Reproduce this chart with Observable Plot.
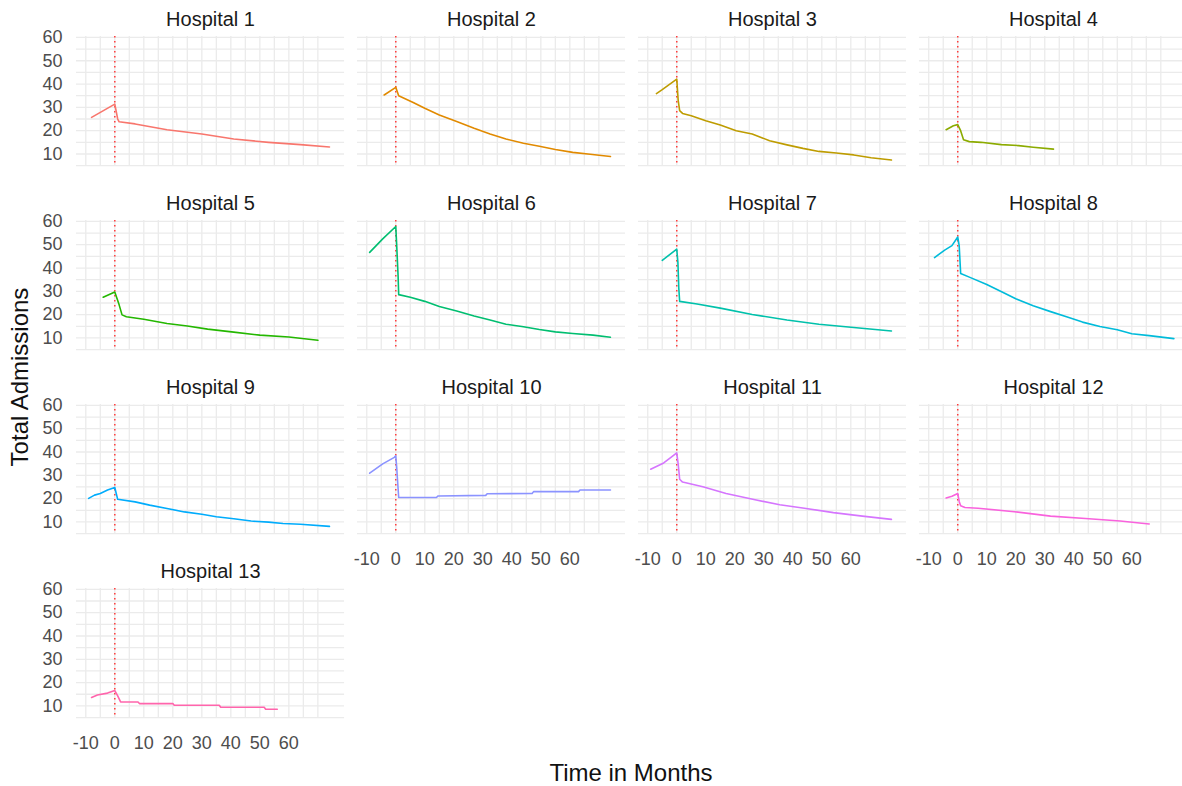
<!DOCTYPE html>
<html><head><meta charset="utf-8">
<script src="https://cdn.jsdelivr.net/npm/d3@7"></script>
<script src="https://cdn.jsdelivr.net/npm/@observablehq/plot@0.6"></script>
<style>
html,body{margin:0;padding:0;background:#fff;overflow:hidden;}
#wrap{position:relative;width:1182px;height:786px;font-family:"Liberation Sans",Arial,sans-serif;}
#xtitle{position:absolute;left:0;width:1262px;top:759px;text-align:center;font-size:24px;color:#111;}
#ytitle{position:absolute;left:20px;top:377px;transform:translate(-50%,-50%) rotate(-90deg);font-size:24px;color:#111;white-space:nowrap;}
</style></head>
<body><div id="wrap"><div id="chart"></div><div id="xtitle">Time in Months</div><div id="ytitle">Total Admissions</div></div>
<script>
// ---- data: [month, total admissions] ----
const hospital1 = [[-8,25.7],[0,31.4],[1,25],[1.5,23.8],[7,22.9],[18,20.4],[30,18.6],[41,16.4],[53,15],[64,14],[74,13]];
const hospital2 = [[-4,35.3],[0,38.6],[1,35],[6,32.1],[10,29.6],[15,26.7],[21,23.9],[27,21],[32.5,18.6],[38,16.4],[44,14.6],[49.5,13.3],[55,11.9],[61,10.7],[67,9.9],[74,8.9]];
const hospital3 = [[-7,35.9],[-5,37.6],[0,42.1],[0.5,32.9],[1,28.6],[2,27.4],[5,26.4],[10,24.3],[15,22.4],[20.5,20],[26,18.6],[32,15.7],[38,13.9],[43.5,12.4],[49,11.1],[55,10.4],[61,9.6],[67,8.4],[74,7.4]];
const hospital4 = [[-4,20.4],[-1.5,22.1],[0,22.6],[1,20],[2,16.1],[4,15.3],[8,15],[15,14],[21,13.6],[26,12.9],[33,12.1]];
const hospital5 = [[-4,27.5],[0,29.7],[1.5,24.2],[2.5,19.9],[4,19.1],[10,18],[18,16.2],[25,15.1],[32,13.8],[41,12.5],[50,11.2],[60,10.4],[70,9]];
const hospital6 = [[-9,46.7],[-4.5,52.5],[0,57.8],[0.3,50.3],[0.8,36.5],[1,28.6],[5,27.5],[10,25.7],[15,23.5],[21,21.6],[27,19.4],[32.5,17.7],[38,15.9],[44,14.8],[49.5,13.6],[55,12.6],[61,11.9],[68,11.2],[74,10.3]];
const hospital7 = [[-5,43.3],[0,48.1],[0.4,42.3],[0.7,31.4],[1,25.7],[7,24.6],[15,22.8],[26,20.1],[38,17.7],[49,15.9],[61,14.5],[74,13]];
const hospital8 = [[-8,44.5],[-4.5,47.7],[-2,49.6],[0,53.3],[0.5,49.6],[1,37.7],[4,36.1],[10,32.9],[16,29.3],[20,26.8],[26,23.8],[32,21.3],[37.5,19.1],[43,16.8],[49,14.9],[55,13.5],[60,11.8],[66,11],[74.5,9.7]];
const hospital9 = [[-9,20.1],[-7,21.5],[-5,22.2],[-2.5,23.7],[0,24.8],[0.5,22.2],[1,19.7],[7,18.6],[12,17.2],[18,15.8],[24,14.3],[30,13.3],[35,12.2],[41,11.4],[47,10.4],[53,9.9],[58,9.3],[64,9],[74,8.1]];
const hospital10 = [[-9,30.9],[-4.5,34.9],[-0.5,37.7],[0,38.4],[0.3,33.8],[0.6,28],[1,20.5],[14,20.5],[14.5,21.1],[31,21.4],[31.5,22.1],[47,22.2],[47.5,23],[63,23],[63.5,23.7],[74,23.7]];
const hospital11 = [[-9,32.6],[-4.5,35.3],[-2,37.7],[0,39.6],[0.5,34.8],[1,28.3],[2,27.1],[9,25.1],[17,22.2],[27,19.5],[35.5,17.4],[44,15.9],[54,14],[64,12.5],[74,11.1]];
const hospital12 = [[-4,20.3],[-2,21],[0,22.2],[0.5,18.8],[1,16.9],[2.5,16.2],[7,15.9],[19.5,14.4],[32,12.5],[44,11.5],[56,10.4],[66,9.1]];
const hospital13 = [[-8,13.6],[-6,14.7],[-2.5,15.5],[0,16.6],[1,14.3],[2,11.7],[8,11.7],[8.5,11],[20,11],[20.5,10.3],[36,10.3],[36.5,9.4],[51.5,9.4],[52,8.6],[56,8.6]];

const hospitalNames = ["Hospital 1","Hospital 2","Hospital 3","Hospital 4","Hospital 5","Hospital 6","Hospital 7","Hospital 8","Hospital 9","Hospital 10","Hospital 11","Hospital 12","Hospital 13"];
const hospitalColors = ["#F8766D","#E18A00","#BE9C00","#8CAB00","#24B700","#00BE70","#00C1AB","#00BBDA","#00ACFC","#8B93FF","#D575FE","#F962DD","#FF65AC"];
const xTickValues = [-10,0,10,20,30,40,50,60];
const yTickValues = [10,20,30,40,50,60];
const xGridValues = d3.range(-10, 71, 5);
const yGridValues = d3.range(5, 61, 5);
const interventionMonth = [0];

const series = [hospital1,hospital2,hospital3,hospital4,hospital5,hospital6,hospital7,hospital8,hospital9,hospital10,hospital11,hospital12,hospital13];
const panels = hospitalNames.map((name, i) => ({name, col: i % 4, row: Math.floor(i / 4)}));
const rows = series.flatMap((s, i) => s.map(([month, value]) => ({name: hospitalNames[i], col: i % 4, row: Math.floor(i / 4), month, value})));

const chart = Plot.plot({
  width: 1182,
  height: 786,
  marginLeft: 76,
  marginRight: -5,
  marginTop: 36,
  marginBottom: 68,
  style: {fontFamily: "'Liberation Sans', Arial, sans-serif", background: "transparent"},
  x: {domain: [-13.2, 79.2]},
  y: {domain: [4.6, 60.4]},
  fx: {domain: [0,1,2,3], paddingInner: 0.046, paddingOuter: 0, round: false, axis: null},
  fy: {domain: [0,1,2,3], paddingInner: 0.293, paddingOuter: 0, round: false, axis: null},
  color: {domain: hospitalNames, range: hospitalColors},
  marks: [
    Plot.gridX(xGridValues, {stroke: "#ebebeb", strokeOpacity: 1, strokeWidth: 1.3}),
    Plot.gridY(yGridValues, {stroke: "#ebebeb", strokeOpacity: 1, strokeWidth: 1.3}),
    Plot.axisY(yTickValues, {anchor: "left", facetAnchor: "left", tickSize: 0, tickPadding: 14, fontSize: 18, fill: "#4d4d4d", label: null}),
    Plot.axisX(xTickValues, {anchor: "bottom", facetAnchor: "bottom-empty", tickSize: 0, tickPadding: 18, fontSize: 18, fill: "#4d4d4d", label: null, tickFormat: d => String(d)}),
    Plot.ruleX(interventionMonth, {stroke: "#ff3b3b", strokeWidth: 1.5, strokeDasharray: "1.5,3.5"}),
    Plot.line(rows, {x: "month", y: "value", z: "name", stroke: "name", fx: "col", fy: "row", strokeWidth: 1.6}),
    Plot.text(panels, {fx: "col", fy: "row", text: "name", frameAnchor: "top", lineAnchor: "middle", dy: -17, fontSize: 20, fill: "#1a1a1a"})
  ]
});
document.getElementById("chart").appendChild(chart);
</script>
</body></html>
